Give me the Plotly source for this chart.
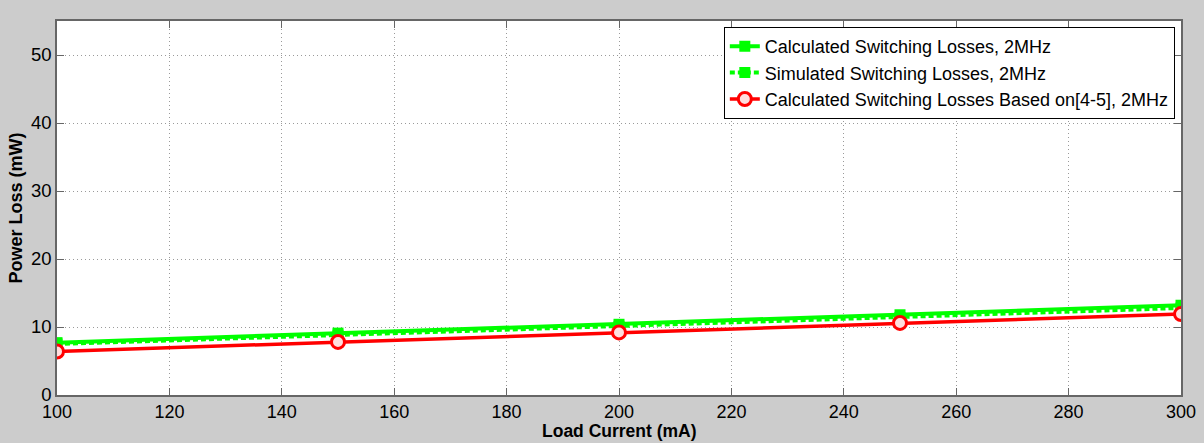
import plotly.graph_objects as go

load_current = [100, 150, 200, 250, 300]
calc_losses = [7.7, 9.1, 10.4, 11.8, 13.2]
sim_losses = [7.5, 8.8, 10.1, 11.4, 12.8]
calc_ref_losses = [6.4, 7.8, 9.2, 10.6, 11.9]

x_ticks = list(range(100, 301, 20))
y_ticks = [0, 10, 20, 30, 40, 50]

FONT = "Liberation Sans, Arial, sans-serif"

fig = go.Figure()
fig.add_trace(go.Scatter(
    x=load_current, y=calc_losses, mode="lines+markers",
    name="Calculated Switching Losses, 2MHz",
    line=dict(color="#00ff00", width=4),
    marker=dict(symbol="square", size=11, color="#00ff00"),
))
fig.add_trace(go.Scatter(
    x=load_current, y=sim_losses, mode="lines+markers",
    name="Simulated Switching Losses, 2MHz",
    line=dict(color="#00ff00", width=4, dash="5px,3px"),
    marker=dict(symbol="square", size=11, color="#00ff00"),
))
fig.add_trace(go.Scatter(
    x=load_current, y=calc_ref_losses, mode="lines+markers",
    name="Calculated Switching Losses Based on[4-5], 2MHz",
    line=dict(color="#ff0000", width=3.5),
    marker=dict(symbol="circle", size=13, color="#ffdddd",
                line=dict(color="#ff0000", width=3)),
))

axis_common = dict(
    showline=True, linecolor="#666666", linewidth=1.5, mirror="ticks",
    ticks="inside", ticklen=7, tickcolor="#666666",
    showgrid=True, gridcolor="#9a9a9a", griddash="1px,3px", gridwidth=1,
    zeroline=False, automargin=False,
    tickfont=dict(family=FONT, size=18.5, color="black"),
)

fig.update_xaxes(range=[100, 300], tickvals=x_ticks, **axis_common)
fig.update_xaxes(ticklabelstandoff=0, tickfont_size=18)
fig.update_yaxes(
    range=[0, 55], tickvals=y_ticks, **axis_common,
    title=dict(text="<b>Power Loss (mW)</b>", standoff=4,
               font=dict(family=FONT, size=18, color="black")),
)

# x-axis label placed just under the tick labels
fig.add_annotation(
    text="<b>Load Current (mA)</b>", xref="paper", yref="paper",
    x=0.5, y=-0.096, xanchor="center", yanchor="middle", showarrow=False,
    font=dict(family=FONT, size=17.5, color="black"),
)

fig.update_layout(
    width=1204, height=443,
    margin=dict(l=57, r=23, t=21, b=48),
    paper_bgcolor="#cccccc", plot_bgcolor="white",
    showlegend=True,
    legend=dict(
        x=0.9945, y=0.984, xanchor="right", yanchor="top",
        bgcolor="white", bordercolor="black", borderwidth=1,
        font=dict(family=FONT, size=18, color="black"),
        tracegroupgap=0, itemwidth=30,
    ),
)

fig.write_html("out.html")
